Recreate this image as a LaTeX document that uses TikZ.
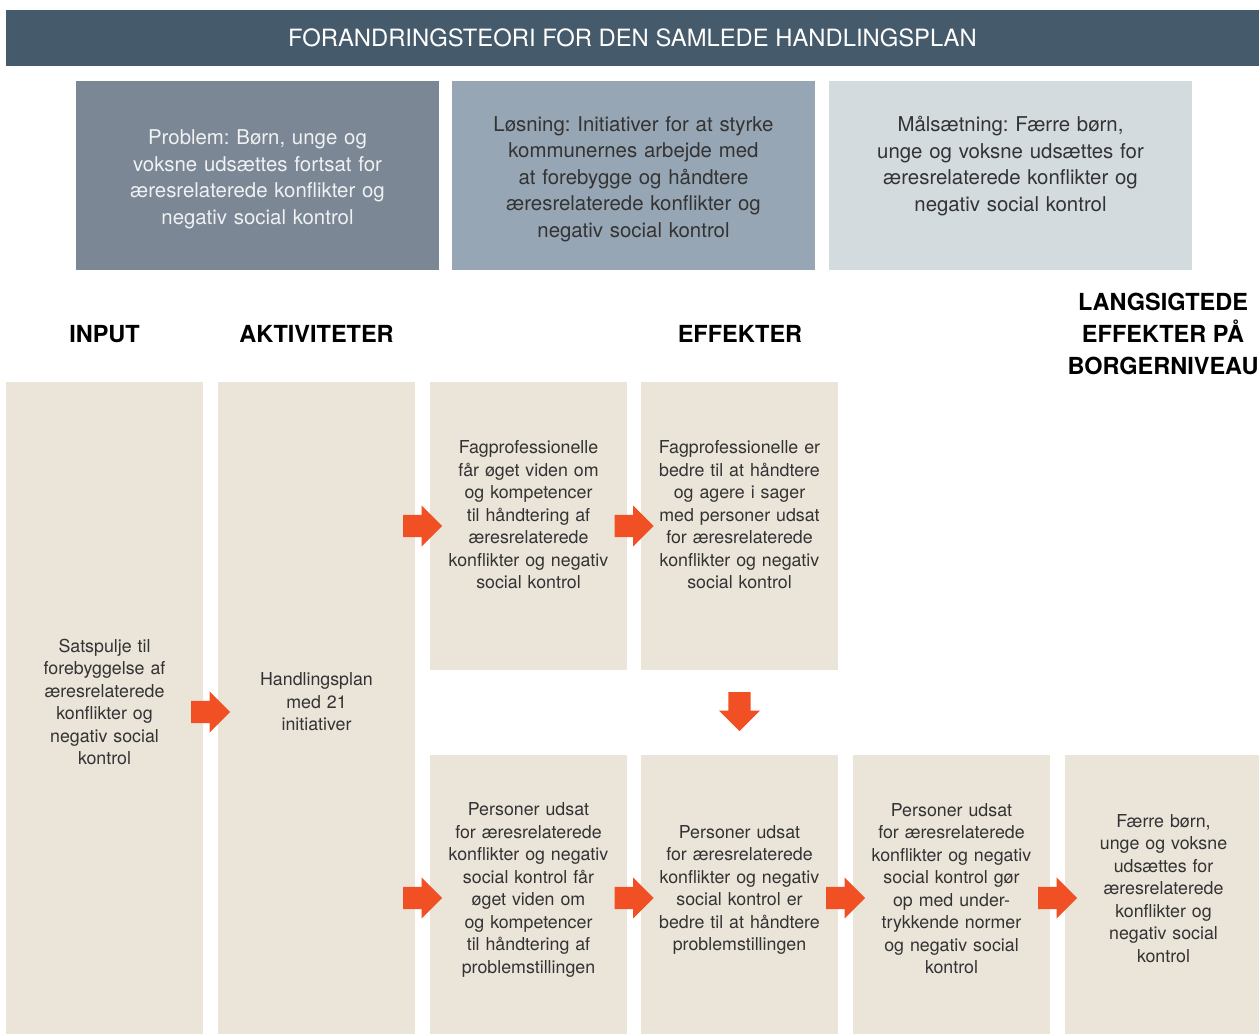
\documentclass[tikz,border=0pt]{standalone}
\usepackage{fontspec}
\setmainfont{TeX Gyre Heros}
\frenchspacing
\usetikzlibrary{shapes.arrows,calc}

\definecolor{hoved}{HTML}{455A6B}
\definecolor{problemfarve}{HTML}{7B8794}
\definecolor{loesningfarve}{HTML}{97A6B4}
\definecolor{maalfarve}{HTML}{D3DBDF}
\definecolor{sand}{HTML}{EAE4D9}
\definecolor{orangepil}{HTML}{F05023}
\definecolor{tekst}{HTML}{333333}

\tikzset{
	topboks/.style={minimum width=363pt, minimum height=189pt, inner sep=0pt},
	topskrift/.style={align=center, text width=330pt, font=\fontsize{20.4}{26.5}\selectfont},
	kolonne/.style={fill=sand, minimum width=197pt, inner sep=0pt},
	brod/.style={align=center, text width=190pt, text=tekst, font=\fontsize{17.8}{22.5}\selectfont},
	overskrift/.style={align=center, font=\fontsize{23.5}{32}\selectfont\bfseries},
	pil/.style={single arrow, fill=orangepil, minimum height=39pt, minimum width=41pt, anchor=tail,
		single arrow head extend=9.5pt, single arrow head indent=0pt, inner xsep=0pt, inner ysep=11pt}
}

\begin{document}
\begin{tikzpicture}[x=1pt, y=-1pt]
	\useasboundingbox (0,0) rectangle (1259,1034);
	% titel
	\node[fill=hoved, minimum width=1253pt, minimum height=56pt, text=white,
		font=\fontsize{23.8}{26}\selectfont] (titel) at (632.5,38) {FORANDRINGSTEORI FOR DEN SAMLEDE HANDLINGSPLAN};
	% problem, loesning, maal
	\node[topboks, fill=problemfarve] (problem) at (257.5,175.5) {};
	\node[topboks, fill=loesningfarve] (loesning) at (633.5,175.5) {};
	\node[topboks, fill=maalfarve] (maal) at (1010.5,175.5) {};
	\node[topskrift, text=white!88!problemfarve, yshift=-4pt] (tproblem) at (problem.center) {Problem: Børn, unge og\\voksne udsættes fortsat for\\æresrelaterede konflikter og\\negativ social kontrol};
	\node[topskrift, text=tekst, anchor=north] (tloesning) at (633.5,113) {Løsning: Initiativer for at styrke\\kommunernes arbejde med\\at forebygge og håndtere\\æresrelaterede konflikter og\\negativ social kontrol};
	\node[topskrift, text=tekst, anchor=north] (tmaal) at (1010.5,113) {Målsætning: Færre børn,\\unge og voksne udsættes for\\æresrelaterede konflikter og\\negativ social kontrol};
	% overskrifter
	\node[overskrift] (hinput) at (104.5,334) {INPUT};
	\node[overskrift] (hakt) at (316.5,334) {AKTIVITETER};
	\node[overskrift] (heff) at (740,334) {EFFEKTER};
	\node[overskrift] (hlang) at (1163,334) {LANGSIGTEDE\\EFFEKTER PÅ\\BORGERNIVEAU};
	% kolonner
	\node[kolonne, minimum height=652pt] (input) at (104.5,708) {};
	\node[kolonne, minimum height=652pt] (akt) at (316.5,708) {};
	\node[kolonne, minimum height=288pt] (fag1) at (528.5,526) {};
	\node[kolonne, minimum height=288pt] (fag2) at (739.5,526) {};
	\node[kolonne, minimum height=279pt] (pers1) at (528.5,894.5) {};
	\node[kolonne, minimum height=279pt] (pers2) at (739.5,894.5) {};
	\node[kolonne, minimum height=279pt] (pers3) at (951.5,894.5) {};
	\node[kolonne, minimum height=279pt] (borger) at (1163.5,894.5) {};
	% tekster
	\node[brod, yshift=6pt] (tinput) at (input.center) {Satspulje til\\forebyggelse af\\æresrelaterede\\konflikter og\\negativ social\\kontrol};
	\node[brod, yshift=6pt] (takt) at (akt.center) {Handlingsplan\\med 21\\initiativer};
	\node[brod, yshift=11pt] (tfag1) at (fag1.center) {Fagprofessionelle\\får øget viden om\\og kompetencer\\til håndtering af\\æresrelaterede\\konflikter og negativ\\social kontrol};
	\node[brod, yshift=11pt] (tfag2) at (fag2.center) {Fagprofessionelle er\\bedre til at håndtere\\og agere i sager\\med personer udsat\\for æresrelaterede\\konflikter og negativ\\social kontrol};
	\node[brod, yshift=4.5pt] (tpers1) at (pers1.center) {Personer udsat\\for æresrelaterede\\konflikter og negativ\\social kontrol får\\øget viden om\\og kompetencer\\til håndtering af\\problemstillingen};
	\node[brod, yshift=4.5pt] (tpers2) at (pers2.center) {Personer udsat\\for æresrelaterede\\konflikter og negativ\\social kontrol er\\bedre til at håndtere\\problemstillingen};
	\node[brod, yshift=6pt] (tpers3) at (pers3.center) {Personer udsat\\for æresrelaterede\\konflikter og negativ\\social kontrol gør\\op med under-\\trykkende normer\\og negativ social\\kontrol};
	\node[brod, yshift=6pt] (tborger) at (borger.center) {Færre børn,\\unge og voksne\\udsættes for\\æresrelaterede\\konflikter og\\negativ social\\kontrol};
	% pile
	\node[pil] (p1) at ($(input.east)!0.5!(akt.west)+(-19.5,4)$) {};
	\node[pil] (p2) at ($(akt.east |- fag1.west)!0.5!(fag1.west)+(-19.5,0)$) {};
	\node[pil] (p3) at ($(fag1.east)!0.5!(fag2.west)+(-19.5,0)$) {};
	\node[pil, rotate=-90] (p4) at ($(fag2.south)!0.5!(pers2.north)+(0,-20.5)$) {};
	\node[pil] (p5) at ($(akt.east |- pers1.west)!0.5!(pers1.west)+(-19.5,3.5)$) {};
	\node[pil] (p6) at ($(pers1.east)!0.5!(pers2.west)+(-19.5,3.5)$) {};
	\node[pil] (p7) at ($(pers2.east)!0.5!(pers3.west)+(-19.5,3.5)$) {};
	\node[pil] (p8) at ($(pers3.east)!0.5!(borger.west)+(-19.5,3.5)$) {};
\end{tikzpicture}
\end{document}
